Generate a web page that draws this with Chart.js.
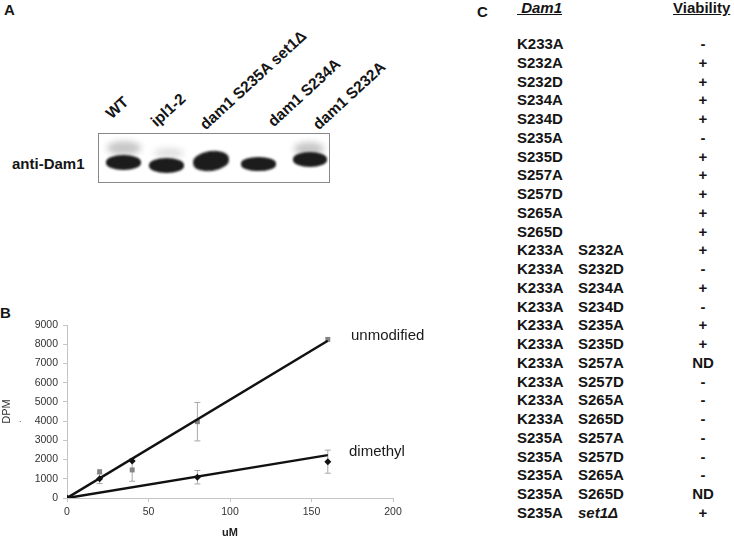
<!DOCTYPE html>
<html>
<head>
<meta charset="utf-8">
<script src="https://cdn.jsdelivr.net/npm/chart.js@4"></script>
<style>
  body { margin: 0; background: #fff; font-family: Arial, "Liberation Sans", sans-serif; color: #151515; }
  #page { position: relative; width: 734px; height: 538px; overflow: hidden; }
  .abs { position: absolute; white-space: nowrap; font-weight: bold; }
  .lane { position: absolute; font-weight: bold; font-size: 15.5px; line-height: 15px; height: 15px;
          transform-origin: 0 100%; transform: rotate(-42.5deg); white-space: nowrap; }
  .band { position: absolute; background: #1c1c1c; border-radius: 50% / 45%; filter: blur(0.8px); }
  .smudge { position: absolute; background: #9a9a9a; border-radius: 50% / 50%; filter: blur(3px); opacity: 0.55; }
  .row { position: absolute; font-weight: bold; font-size: 15px; line-height: 18px; white-space: nowrap; }
  #chartBox { position: absolute; left: 0; top: 300px; width: 430px; height: 238px; }
  .note { position: absolute; font-size: 15px; color: #1a1a1a; white-space: nowrap; }
</style>
</head>
<body>
<div id="page">
  <!-- panel A -->
  <div class="abs" style="left:4px; top:1px; font-size:15px;">A</div>
  <div class="lane" style="left:113px; top:106px;">WT</div>
  <div class="lane" style="left:158px; top:114px;">ipl1-2</div>
  <div class="lane" style="left:207px; top:117px;">dam1 S235A set1&Delta;</div>
  <div class="lane" style="left:275px; top:114px;">dam1 S234A</div>
  <div class="lane" style="left:320px; top:117px;">dam1 S232A</div>
  <div class="abs" style="left:12px; top:155px; font-size:15px;">anti-Dam1</div>
  <div style="position:absolute; left:98px; top:133px; width:230px; height:48px; border:1px solid #888; background:#fff; overflow:hidden;">
    <div class="smudge" style="left:8px; top:7px; width:34px; height:14px;"></div>
    <div class="smudge" style="left:55px; top:14px; width:30px; height:10px; opacity:0.3;"></div>
    <div class="smudge" style="left:195px; top:8px; width:30px; height:14px;"></div>
    <div class="band" style="left:7px; top:21px; width:35px; height:15px;"></div>
    <div class="band" style="left:50px; top:24px; width:35px; height:15px;"></div>
    <div class="band" style="left:94px; top:17px; width:36px; height:20px; transform:rotate(-8deg);"></div>
    <div class="band" style="left:142px; top:23px; width:35px; height:14px;"></div>
    <div class="band" style="left:194px; top:18px; width:34px; height:15px;"></div>
  </div>

  <!-- panel B -->
  <div class="abs" style="left:0px; top:304px; font-size:15px;">B</div>
  <div id="chartBox"><canvas id="dpmChart"></canvas></div>
  <div class="note" style="left:351px; top:326px;">unmodified</div>
  <div class="note" style="left:349px; top:442px;">dimethyl</div>
  <div style="position:absolute; left:19px; top:414px; font-size:9px; color:#555;">.</div>

  <!-- panel C -->
  <div class="abs" style="left:477px; top:3px; font-size:15px;">C</div>
  <div id="tableC"></div>
</div>

<script>
// panel B data
const concUM = [0, 20, 40, 80, 160];
const unmodifiedDPM = [0, 1370, 1460, 3970, 8250];
const unmodifiedErr = [0, 0, 590, 1000, 0];
const dimethylDPM = [0, 1000, 1930, 1080, 1890];
const dimethylErr = [0, 250, 0, 350, 600];
// trend lines (end points)
const trendX = [0, 160];
const unmodifiedTrend = [0, 8180];
const dimethylTrend = [0, 2230];
const xTicks = [0, 50, 100, 150, 200];
const yTicks = [0, 1000, 2000, 3000, 4000, 5000, 6000, 7000, 8000, 9000];

// panel C data
const mutA = ['K233A', 'S232A', 'S232D', 'S234A', 'S234D', 'S235A', 'S235D', 'S257A', 'S257D', 'S265A', 'S265D',
  'K233A', 'K233A', 'K233A', 'K233A', 'K233A', 'K233A', 'K233A', 'K233A', 'K233A', 'K233A',
  'S235A', 'S235A', 'S235A', 'S235A', 'S235A'];
const mutB = ['', '', '', '', '', '', '', '', '', '', '',
  'S232A', 'S232D', 'S234A', 'S234D', 'S235A', 'S235D', 'S257A', 'S257D', 'S265A', 'S265D',
  'S257A', 'S257D', 'S265A', 'S265D', 'set1\u0394'];
const viability = ['-', '+', '+', '+', '+', '-', '+', '+', '+', '+', '+',
  '+', '-', '+', '-', '+', '+', 'ND', '-', '-', '-',
  '-', '-', '-', 'ND', '+'];

function buildTable() {
  const box = document.getElementById('tableC');
  let html = '<div class="row" style="left:517px; top:-1px; font-style:italic; text-decoration:underline;">&nbsp;Dam1</div>';
  html += '<div class="row" style="left:673px; top:-1px; text-decoration:underline;">Viability</div>';
  for (let i = 0; i < mutA.length; i++) {
    const top = 35 + i * 18.76;
    html += `<div class="row" style="left:517px; top:${top}px;">${mutA[i]}</div>`;
    if (mutB[i]) {
      const it = mutB[i].startsWith('set1') ? 'font-style:italic;' : '';
      html += `<div class="row" style="left:578px; top:${top}px; ${it}">${mutB[i]}</div>`;
    }
    html += `<div class="row" style="left:663px; width:80px; text-align:center; top:${top}px;">${viability[i]}</div>`;
  }
  box.innerHTML = html;
}
buildTable();

const pts = (xs, ys) => xs.map((x, i) => ({ x: x, y: ys[i] }));

// error bars drawn with the chart's own scales
const errorBars = {
  id: 'errorBars',
  beforeDatasetsDraw(chart) {
    const ctx = chart.ctx;
    const xs = chart.scales.x, ys = chart.scales.y;
    const sets = [[unmodifiedDPM, unmodifiedErr], [dimethylDPM, dimethylErr]];
    ctx.save();
    ctx.strokeStyle = '#a8a8a8';
    ctx.lineWidth = 1;
    sets.forEach(([vals, errs]) => {
      vals.forEach((v, i) => {
        if (!errs[i]) return;
        const px = xs.getPixelForValue(concUM[i]);
        const top = ys.getPixelForValue(v + errs[i]);
        const bot = ys.getPixelForValue(v - errs[i]);
        ctx.beginPath();
        ctx.moveTo(px, top); ctx.lineTo(px, bot);
        ctx.moveTo(px - 3, top); ctx.lineTo(px + 3, top);
        ctx.moveTo(px - 3, bot); ctx.lineTo(px + 3, bot);
        ctx.stroke();
      });
    });
    ctx.restore();
  }
};

const tickFont = { family: 'Arial, "Liberation Sans", sans-serif', size: 10.5 };

new Chart(document.getElementById('dpmChart'), {
  type: 'scatter',
  data: {
    datasets: [
      {
        label: 'unmodified',
        data: pts(concUM, unmodifiedDPM),
        pointStyle: 'rect',
        pointRadius: 3.5,
        backgroundColor: '#858585',
        borderColor: '#858585',
        borderWidth: 0,
        order: 2
      },
      {
        label: 'dimethyl',
        data: pts(concUM, dimethylDPM),
        pointStyle: 'rectRot',
        pointRadius: 3.5,
        backgroundColor: '#111',
        borderColor: '#111',
        borderWidth: 0,
        order: 1
      },
      {
        label: 'unmodified trend',
        type: 'line',
        data: pts(trendX, unmodifiedTrend),
        borderColor: '#111',
        borderWidth: 2.5,
        pointRadius: 0,
        order: 0
      },
      {
        label: 'dimethyl trend',
        type: 'line',
        data: pts(trendX, dimethylTrend),
        borderColor: '#111',
        borderWidth: 2.5,
        pointRadius: 0,
        order: 0
      }
    ]
  },
  options: {
    responsive: true,
    maintainAspectRatio: false,
    animation: false,
    layout: { padding: { top: 25, right: 37, left: 0, bottom: 0 } },
    plugins: { legend: { display: false }, tooltip: { enabled: false } },
    scales: {
      x: {
        type: 'linear',
        min: 0,
        max: 200,
        afterBuildTicks: s => { s.ticks = xTicks.map(v => ({ value: v })); },
        afterFit: s => { s.height = 40; },
        ticks: { color: '#333', font: tickFont, padding: 4, maxRotation: 0, callback: v => String(v) },
        grid: { drawOnChartArea: false, drawTicks: true, tickLength: 4, color: '#c4c4c4' },
        border: { color: '#c4c4c4' },
        title: {
          display: true, text: 'uM', color: '#222',
          font: { family: 'Arial, "Liberation Sans", sans-serif', size: 11, weight: 'bold', lineHeight: 1 },
          padding: { top: 0, bottom: 0 }
        }
      },
      y: {
        min: 0,
        max: 9000,
        afterBuildTicks: s => { s.ticks = yTicks.map(v => ({ value: v })); },
        afterFit: s => { s.width = 67; },
        ticks: { color: '#333', font: tickFont, padding: 5, callback: v => String(v) },
        grid: { drawOnChartArea: false, drawTicks: true, tickLength: 4, color: '#c4c4c4' },
        border: { color: '#c4c4c4' },
        title: {
          display: true, text: 'DPM', color: '#333',
          font: { family: 'Arial, "Liberation Sans", sans-serif', size: 11, lineHeight: 1.2 },
          padding: { top: 0, bottom: 0 }
        }
      }
    }
  },
  plugins: [errorBars]
});
</script>
</body>
</html>
